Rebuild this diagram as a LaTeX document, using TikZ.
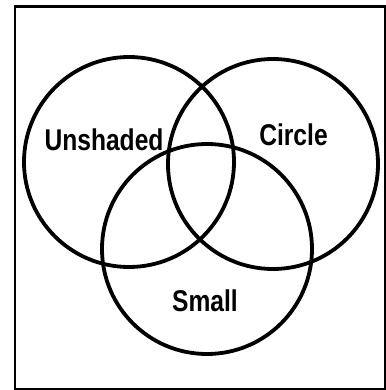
\documentclass[tikz,border=0pt]{standalone}
\usepackage{fontspec}
\setmainfont{Liberation Sans}
\tikzset{
  venn/.style={draw=black, line width=3.8pt, circle, minimum size=210pt, inner sep=0pt},
  lbl/.style={font=\fontsize{30}{30}\selectfont\bfseries, anchor=base, inner sep=0pt, xscale=0.82},
}
\begin{document}
\begin{tikzpicture}[x=1pt,y=-1pt]
\useasboundingbox (0,0) rectangle (385,390);
\node[draw=black, line width=2.5pt, minimum width=370.5pt, minimum height=382pt, inner sep=0pt, anchor=north west] (frame) at (13.5,5.5) {};
\node[venn] (A) at (129,162) {};
\node[venn] (B) at (273,164) {};
\node[venn] (C) at (207,249) {};
\node[lbl] (la) at (104,150) {Unshaded};
\node[lbl] (lb) at (293.5,146) {Circle};
\node[lbl] (lc) at (205,311) {Small};
\end{tikzpicture}
\end{document}
